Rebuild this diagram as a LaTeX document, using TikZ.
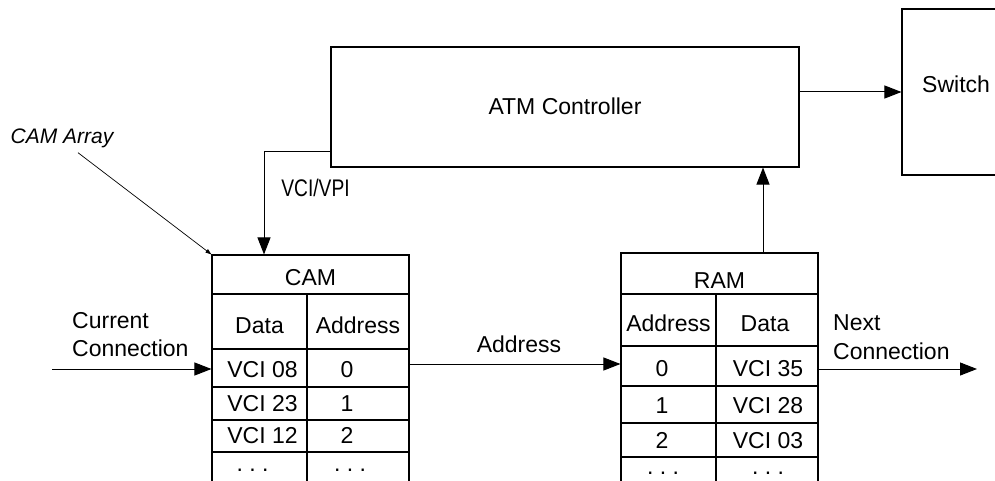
\documentclass[tikz,border=0pt]{standalone}
\usepackage{fontspec}
\setmainfont{Liberation Sans}
\usetikzlibrary{arrows.meta}
\begin{document}
\begin{tikzpicture}[x=1pt,y=-1pt,
  box/.style={draw, line width=1.1pt, inner sep=0pt, rectangle},
  txt/.style={inner sep=0pt, font=\fontsize{23}{27}\selectfont, text height=16.5pt, text depth=0pt},
  conn/.style={line width=1pt, -{Triangle[length=17pt,width=13pt]}},
  thin/.style={line width=0.7pt, -{Triangle[length=6pt,width=4pt]}}
]
\useasboundingbox (0,0) rectangle (995,481);
\clip (0,0) rectangle (995,481);

% ATM controller and switch
\node[box, minimum width=468pt, minimum height=120pt] (ctrl) at (565,107) {};
\node[txt] (ctrltxt) at (565,106) {ATM Controller};
\node[box, minimum width=108pt, minimum height=166pt] (switch) at (956,92) {};
\node[txt, anchor=west] (switchtxt) at (922,84) {Switch};

% CAM table
\node[box, minimum width=197pt, minimum height=39pt] (camT) at (310.5,274.5) {};
\node[box, minimum width=95pt, minimum height=55pt] (camH1) at (259.5,321.5) {};
\node[box, minimum width=102pt, minimum height=55pt] (camH2) at (358,321.5) {};
\node[box, minimum width=95pt, minimum height=38pt] (camA1) at (259.5,368) {};
\node[box, minimum width=102pt, minimum height=38pt] (camB1) at (358,368) {};
\node[box, minimum width=95pt, minimum height=33pt] (camA2) at (259.5,403.5) {};
\node[box, minimum width=102pt, minimum height=33pt] (camB2) at (358,403.5) {};
\node[box, minimum width=95pt, minimum height=32pt] (camA3) at (259.5,436) {};
\node[box, minimum width=102pt, minimum height=32pt] (camB3) at (358,436) {};
\node[box, minimum width=95pt, minimum height=48pt] (camA4) at (259.5,476) {};
\node[box, minimum width=102pt, minimum height=48pt] (camB4) at (358,476) {};

\node[txt] (camtitle) at (310.5,277) {CAM};
\node[txt] (camdata) at (259.5,325) {Data};
\node[txt] (camaddr) at (358,325) {Address};
\node[txt] (cv1) at (262.5,369) {VCI 08};
\node[txt] (ca1) at (347,369) {0};
\node[txt] (cv2) at (262.5,403) {VCI 23};
\node[txt] (ca2) at (347,403) {1};
\node[txt] (cv3) at (262.5,435) {VCI 12};
\node[txt] (ca3) at (347,435) {2};
\node[txt, anchor=base] (cv4) at (252.5,471) {.\ .\ .};
\node[txt, anchor=base] (ca4) at (350,471) {.\ .\ .};

% RAM table
\node[box, minimum width=197pt, minimum height=41pt] (ramT) at (719.5,273.5) {};
\node[box, minimum width=95pt, minimum height=52pt] (ramH1) at (668.5,320) {};
\node[box, minimum width=102pt, minimum height=52pt] (ramH2) at (767,320) {};
\node[box, minimum width=95pt, minimum height=40pt] (ramA1) at (668.5,366) {};
\node[box, minimum width=102pt, minimum height=40pt] (ramB1) at (767,366) {};
\node[box, minimum width=95pt, minimum height=37pt] (ramA2) at (668.5,404.5) {};
\node[box, minimum width=102pt, minimum height=37pt] (ramB2) at (767,404.5) {};
\node[box, minimum width=95pt, minimum height=34pt] (ramA3) at (668.5,440) {};
\node[box, minimum width=102pt, minimum height=34pt] (ramB3) at (767,440) {};
\node[box, minimum width=95pt, minimum height=48pt] (ramA4) at (668.5,481) {};
\node[box, minimum width=102pt, minimum height=48pt] (ramB4) at (767,481) {};

\node[txt] (ramtitle) at (719.5,280) {RAM};
\node[txt] (ramaddr) at (668.5,323) {Address};
\node[txt] (ramdata) at (765,323) {Data};
\node[txt] (ra1) at (662,368) {0};
\node[txt] (rv1) at (768,368) {VCI 35};
\node[txt] (ra2) at (662,405) {1};
\node[txt] (rv2) at (768,405) {VCI 28};
\node[txt] (ra3) at (662,440) {2};
\node[txt] (rv3) at (768,440) {VCI 03};
\node[txt, anchor=base] (ra4) at (663,474) {.\ .\ .};
\node[txt, anchor=base] (rv4) at (768,474) {.\ .\ .};

% labels
\node[inner sep=0pt, font=\fontsize{21}{25}\selectfont\itshape, text height=15pt, text depth=0pt] (cama) at (62,136) {CAM Array};
\node[inner sep=0pt, font=\fontsize{24}{28}\selectfont, text height=17pt, text depth=0pt] (vcivpi) at (315.5,188) {\scalebox{0.8}[1]{VCI/VPI}};
\node[txt, anchor=west] (cur1) at (72,320) {Current};
\node[txt, anchor=west] (cur2) at (72,348) {Connection};
\node[txt] (addrlbl) at (519,344) {Address};
\node[txt, anchor=west] (next1) at (833,322) {Next};
\node[txt, anchor=west] (next2) at (833,351) {Connection};

% connectors
\coordinate (curin) at (52,369);
\coordinate (nextout) at (977,369);
\draw[conn] ([yshift=15pt]ctrl.east) -- (switch.west);
\draw[conn] ([xshift=43.5pt]ramT.north) -- ([xshift=43.5pt]ramT.north |- ctrl.south);
\draw[conn] ([yshift=-45pt]ctrl.west) -| ([xshift=-46.5pt]camT.north);
\draw[conn] (curin) -- (curin -| camT.west);
\draw[conn] ([yshift=4pt]camB1.east) -- ([yshift=4pt]camB1.east -| ramA1.west);
\draw[conn] (ramB1.east |- nextout) -- (nextout);
\draw[thin] ([xshift=16pt,yshift=-9pt]cama.south) -- (camT.north west);
\end{tikzpicture}
\end{document}
